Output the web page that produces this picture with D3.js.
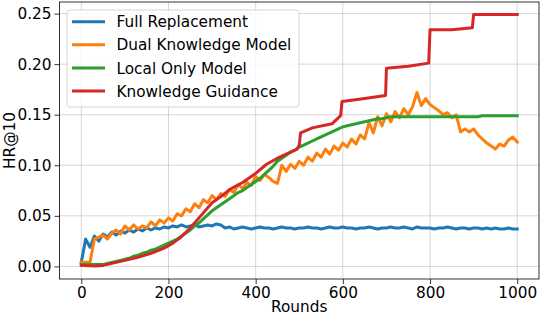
<!DOCTYPE html>
<html>
<head>
<meta charset="utf-8">
<script src="https://cdn.jsdelivr.net/npm/d3@7"></script>
<style>
  html, body { margin: 0; padding: 0; background: #fff; }
  svg { display: block; font-family: "DejaVu Sans", sans-serif; }
</style>
</head>
<body>
<svg id="chart" width="540" height="316"></svg>
<script>
// ---- data ----
const rounds = d3.range(0, 1001, 10);
const fullReplacement = [
  0.004, 0.027, 0.019, 0.030, 0.025, 0.032, 0.029, 0.034, 0.031, 0.035,
  0.033, 0.036, 0.034, 0.037, 0.035, 0.038, 0.036, 0.038, 0.037, 0.039,
  0.038, 0.040, 0.039, 0.041, 0.039, 0.040, 0.041, 0.039, 0.040, 0.041,
  0.040, 0.042, 0.041, 0.038, 0.039, 0.037, 0.038, 0.039, 0.038, 0.037,
  0.038, 0.039, 0.038, 0.038, 0.037, 0.038, 0.039, 0.038, 0.038, 0.037,
  0.038, 0.038, 0.039, 0.038, 0.038, 0.037, 0.038, 0.039, 0.038, 0.038,
  0.039, 0.038, 0.038, 0.037, 0.038, 0.038, 0.039, 0.038, 0.037, 0.038,
  0.038, 0.039, 0.038, 0.038, 0.039, 0.038, 0.037, 0.039, 0.038, 0.038,
  0.038, 0.037, 0.038, 0.038, 0.039, 0.038, 0.037, 0.038, 0.038, 0.037,
  0.038, 0.038, 0.037, 0.038, 0.037, 0.038, 0.037, 0.037, 0.038, 0.037,
  0.037
];
const dualKnowledge = [
  0.004, 0.004, 0.004, 0.027, 0.029, 0.031, 0.027, 0.033, 0.036, 0.032,
  0.040, 0.036, 0.041, 0.037, 0.040, 0.038, 0.044, 0.040, 0.046, 0.043,
  0.048, 0.045, 0.052, 0.050, 0.057, 0.054, 0.062, 0.058, 0.066, 0.063,
  0.070, 0.066, 0.072, 0.069, 0.076, 0.073, 0.081, 0.077, 0.083, 0.080,
  0.089, 0.085, 0.091, 0.088, 0.084, 0.082, 0.100, 0.094, 0.101, 0.097,
  0.104, 0.100, 0.108, 0.104, 0.112, 0.108, 0.116, 0.111, 0.119, 0.115,
  0.122, 0.118, 0.126, 0.121, 0.130, 0.126, 0.142, 0.132, 0.148, 0.139,
  0.151, 0.143, 0.153, 0.147, 0.156, 0.150, 0.158, 0.172, 0.159, 0.166,
  0.160, 0.157, 0.154, 0.150, 0.152, 0.147, 0.150, 0.133, 0.136, 0.133,
  0.136, 0.130, 0.126, 0.122, 0.119, 0.116, 0.121, 0.119, 0.125, 0.128,
  0.123
];
const localOnly = [
  0.002, 0.002, 0.002, 0.002, 0.002, 0.002, 0.003, 0.004, 0.005, 0.006,
  0.007, 0.008, 0.010, 0.011, 0.013, 0.014, 0.016, 0.017, 0.019, 0.021,
  0.023, 0.025, 0.027, 0.030, 0.033, 0.036, 0.040, 0.043, 0.047, 0.051,
  0.055, 0.058, 0.061, 0.064, 0.067, 0.070, 0.073, 0.075, 0.078, 0.081,
  0.084, 0.087, 0.091, 0.095, 0.099, 0.104, 0.107, 0.110, 0.113, 0.115,
  0.118, 0.120, 0.122, 0.124, 0.126, 0.128, 0.130, 0.132, 0.134, 0.136,
  0.138, 0.139, 0.140, 0.141, 0.142, 0.143, 0.144, 0.145, 0.146, 0.146,
  0.147, 0.148, 0.148, 0.148, 0.148, 0.148, 0.148, 0.148, 0.148, 0.148,
  0.148, 0.148, 0.148, 0.148, 0.148, 0.148, 0.148, 0.148, 0.148, 0.148,
  0.148, 0.148, 0.149, 0.149, 0.149, 0.149, 0.149, 0.149, 0.149, 0.149,
  0.149
];
const guidanceRounds = [0, 30, 50, 70, 100, 130, 160, 190, 210, 226, 250, 270, 300, 320, 340, 370, 400, 425, 450, 475, 495, 500, 503, 530, 575, 595, 598, 650, 698, 700, 750, 797, 800, 850, 897, 900, 1000];
const knowledgeGuidance = [0.001, 0.0005, 0.001, 0.003, 0.006, 0.009, 0.013, 0.018, 0.023, 0.028, 0.038, 0.048, 0.063, 0.069, 0.076, 0.083, 0.092, 0.101, 0.107, 0.112, 0.116, 0.120, 0.132, 0.137, 0.141, 0.149, 0.163, 0.166, 0.169, 0.196, 0.198, 0.201, 0.234, 0.234, 0.236, 0.249, 0.249];

const seriesNames = ["Full Replacement", "Dual Knowledge Model", "Local Only Model", "Knowledge Guidance"];
const seriesColors = ["#1f77b4", "#ff7f0e", "#2ca02c", "#d62728"];
const xTicks = [0, 200, 400, 600, 800, 1000];
const yTicks = [0.00, 0.05, 0.10, 0.15, 0.20, 0.25];

// ---- layout ----
const FS = 15.3;
const svg = d3.select("#chart");
const padL = 59.5, padR = 539, padT = 2, padB = 279;
const x = d3.scaleLinear().domain([-50, 1050]).range([padL, padR]);
const y = d3.scaleLinear().domain([-0.01245, 0.26145]).range([padB, padT]);

// grid
const grid = svg.append("g");
grid.selectAll(".gx").data(xTicks).join("line")
  .attr("x1", d => x(d)).attr("x2", d => x(d)).attr("y1", padT).attr("y2", padB)
  .attr("stroke", "#b0b0b0").attr("stroke-opacity", 0.5).attr("stroke-width", 1);
grid.selectAll(".gy").data(yTicks).join("line")
  .attr("y1", d => y(d)).attr("y2", d => y(d)).attr("x1", padL).attr("x2", padR)
  .attr("stroke", "#b0b0b0").attr("stroke-opacity", 0.5).attr("stroke-width", 1);

// lines
const series = [
  { xs: rounds, ys: fullReplacement },
  { xs: rounds, ys: dualKnowledge },
  { xs: rounds, ys: localOnly },
  { xs: guidanceRounds, ys: knowledgeGuidance }
];
const line = d3.line().x(d => x(d[0])).y(d => y(d[1]));
series.forEach((s, i) => {
  svg.append("path")
    .datum(s.xs.map((r, j) => [r, s.ys[j]]))
    .attr("d", line)
    .attr("fill", "none")
    .attr("stroke", seriesColors[i])
    .attr("stroke-width", 3)
    .attr("stroke-linejoin", "round")
    .attr("stroke-linecap", "square");
});

// axes
const xAxis = d3.axisBottom(x).tickValues(xTicks).tickSize(5).tickPadding(3).tickFormat(d3.format("d"));
const yAxis = d3.axisLeft(y).tickValues(yTicks).tickSize(5).tickPadding(3).tickFormat(d3.format(".2f"));
const gx = svg.append("g").attr("transform", `translate(0,${padB})`).call(xAxis);
const gy = svg.append("g").attr("transform", `translate(${padL},0)`).call(yAxis);
[gx, gy].forEach(g => {
  g.select(".domain").remove();
  g.selectAll("line").attr("stroke", "#000").attr("stroke-width", 0.8);
  g.selectAll("text").attr("font-size", FS).attr("fill", "#000").attr("font-family", "DejaVu Sans");
});

// spines
svg.append("rect").attr("x", padL).attr("y", padT).attr("width", padR - padL).attr("height", padB - padT)
  .attr("fill", "none").attr("stroke", "#000").attr("stroke-width", 0.8);

// labels
svg.append("text").attr("x", (padL + padR) / 2).attr("y", 312.3).attr("text-anchor", "middle")
  .attr("font-size", FS).text("Rounds");
svg.append("text").attr("transform", `translate(15,${(padT + padB) / 2}) rotate(-90)`)
  .attr("text-anchor", "middle").attr("font-size", FS).text("HR@10");

// legend
const lg = svg.append("g");
lg.append("rect").attr("x", 67).attr("y", 10).attr("width", 232).attr("height", 97).attr("rx", 3)
  .attr("fill", "#fff").attr("fill-opacity", 0.8).attr("stroke", "#ccc").attr("stroke-width", 0.8);
seriesNames.forEach((name, i) => {
  const yy = 21.7 + i * 23.1;
  lg.append("line").attr("x1", 72).attr("x2", 105).attr("y1", yy).attr("y2", yy)
    .attr("stroke", seriesColors[i]).attr("stroke-width", 3);
  lg.append("text").attr("x", 116.5).attr("y", yy + 5.6).attr("font-size", FS).text(name);
});
</script>
</body>
</html>
